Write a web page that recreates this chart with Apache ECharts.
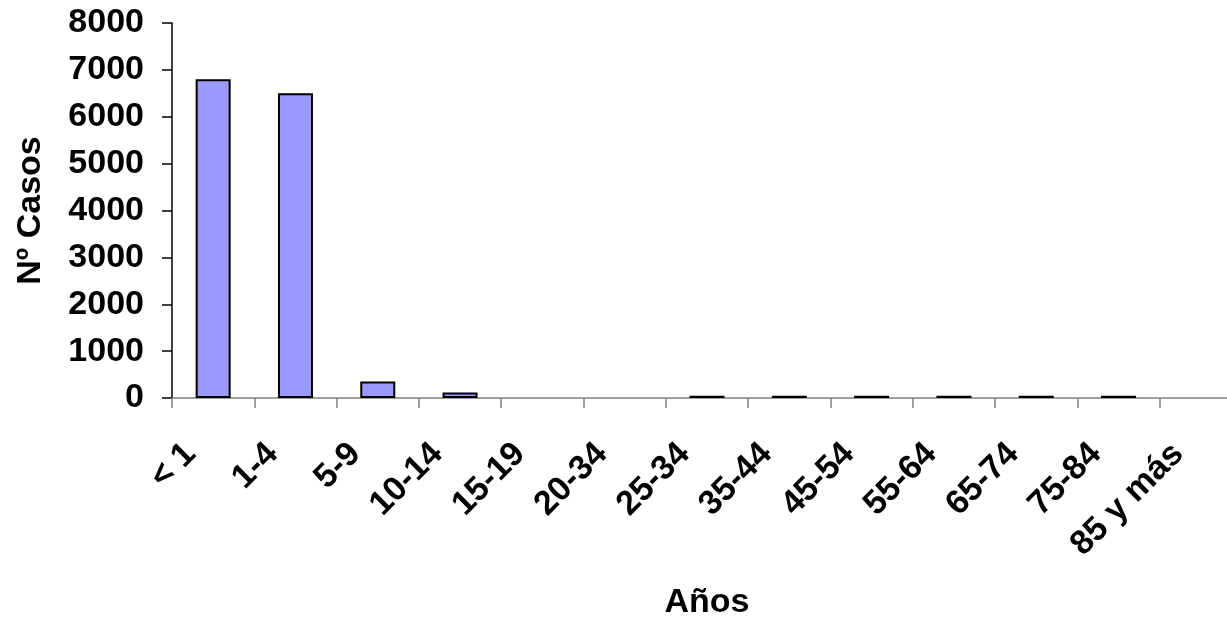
<!DOCTYPE html>
<html>
<head>
<meta charset="utf-8">
<script src="https://cdn.jsdelivr.net/npm/echarts@6/dist/echarts.min.js"></script>
<style>html,body{margin:0;padding:0;background:#fff;}#c{width:1227px;height:619px;}</style>
</head>
<body>
<div id="c"></div>
<script>
const categories = ['< 1', '1-4', '5-9', '10-14', '15-19', '20-34', '25-34', '35-44', '45-54', '55-64', '65-74', '75-84', '85 y más'];
const casos = [6800, 6500, 350, 120, 0, 0, 50, 50, 50, 50, 50, 50, 0];
const yTicks = [0, 1000, 2000, 3000, 4000, 5000, 6000, 7000, 8000];
const xTitle = 'Años';
const yTitle = 'Nº Casos';

const font = 'Liberation Sans, Arial, sans-serif';
const chart = echarts.init(document.getElementById('c'), null, {renderer: 'canvas'});
chart.setOption({
  animation: false,
  backgroundColor: '#fff',
  grid: {left: 172, top: 23, width: 1070, height: 375, containLabel: false, outerBoundsMode: 'none'},
  xAxis: {
    type: 'category',
    data: categories,
    boundaryGap: true,
    name: xTitle,
    nameLocation: 'middle',
    nameGap: 188,
    nameTextStyle: {fontFamily: font, fontWeight: 'bold', fontSize: 34, color: '#000'},
    axisLine: {show: true, lineStyle: {color: '#808080', width: 1.5}},
    axisTick: {show: true, length: 10, alignWithLabel: false, lineStyle: {color: '#808080', width: 1.5}},
    axisLabel: {rotate: 45, interval: 0, margin: 28, padding: [0, 32, 0, 0], fontFamily: font, fontWeight: 'bold', fontSize: 34, color: '#000'},
    splitLine: {show: false}
  },
  yAxis: {
    type: 'value',
    min: yTicks[0],
    max: yTicks[yTicks.length - 1],
    interval: 1000,
    name: yTitle,
    nameLocation: 'middle',
    nameGap: 124,
    nameRotate: 90,
    nameTextStyle: {fontFamily: font, fontWeight: 'bold', fontSize: 34, color: '#000'},
    axisLine: {show: true, lineStyle: {color: '#000', width: 1.5}},
    axisTick: {show: true, length: 10, lineStyle: {color: '#000', width: 1.5}},
    axisLabel: {margin: 28, formatter: v => String(v), fontFamily: font, fontWeight: 'bold', fontSize: 34, color: '#000'},
    splitLine: {show: false}
  },
  series: [{
    type: 'bar',
    data: casos.map(v => (v === 0 ? '-' : v)),
    barWidth: 35,
    itemStyle: {color: '#9999FF', borderColor: '#000', borderWidth: 2}
  }]
});
</script>
</body>
</html>
